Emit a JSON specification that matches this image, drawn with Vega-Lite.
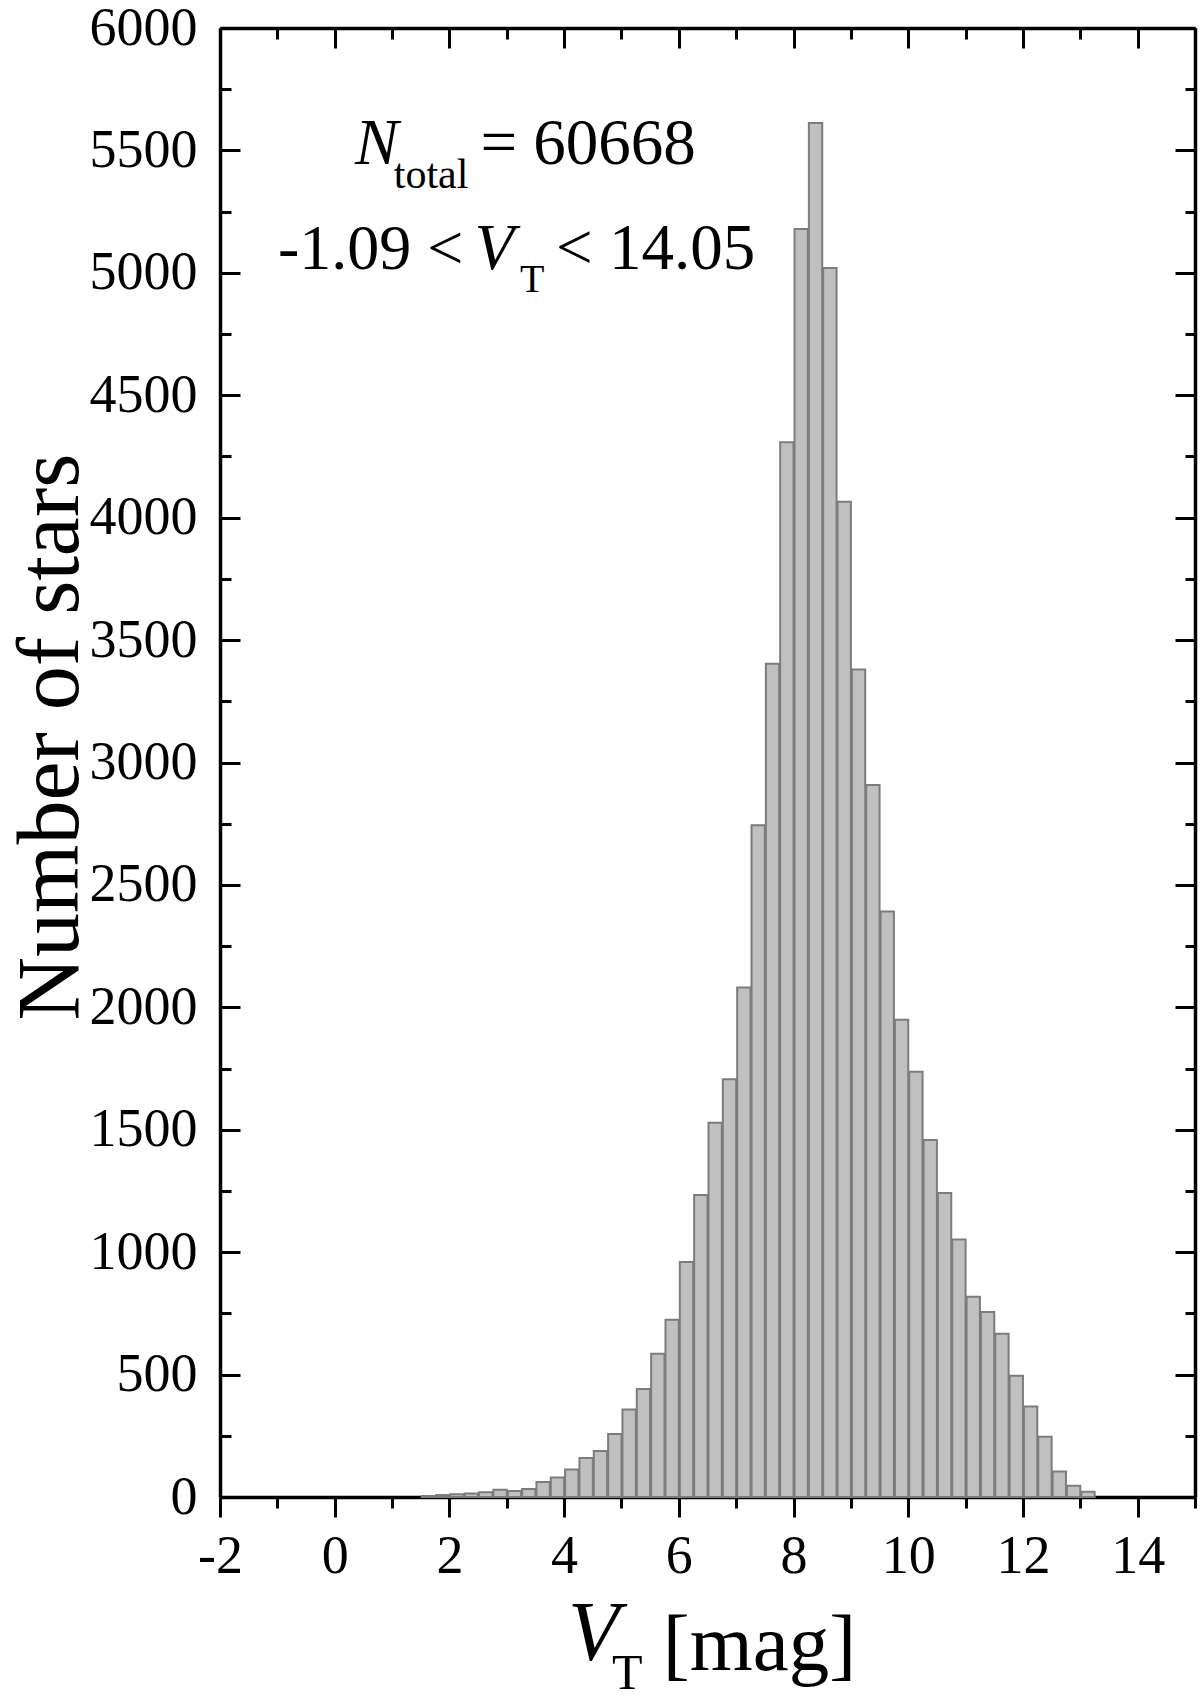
{
  "$schema": "https://vega.github.io/schema/vega-lite/v6.json",
  "width": 975,
  "height": 1469,
  "autosize": {"type": "none"},
  "padding": {"left": 220, "top": 28, "right": 5, "bottom": 201},
  "background": "white",
  "config": {
    "view": {"stroke": null},
    "font": "Liberation Serif",
    "axis": {"labelFont": "Liberation Serif", "grid": false, "domainColor": "black", "tickColor": "black", "labelColor": "black", "labelFlush": false, "labelOverlap": false}
  },
  "data": {"values": [
    {"bin_start": 1.5, "bin_end": 1.75, "count": 4},
    {"bin_start": 1.75, "bin_end": 2.0, "count": 8},
    {"bin_start": 2.0, "bin_end": 2.25, "count": 11},
    {"bin_start": 2.25, "bin_end": 2.5, "count": 14},
    {"bin_start": 2.5, "bin_end": 2.75, "count": 19},
    {"bin_start": 2.75, "bin_end": 3.0, "count": 30},
    {"bin_start": 3.0, "bin_end": 3.25, "count": 24},
    {"bin_start": 3.25, "bin_end": 3.5, "count": 33},
    {"bin_start": 3.5, "bin_end": 3.75, "count": 61},
    {"bin_start": 3.75, "bin_end": 4.0, "count": 80},
    {"bin_start": 4.0, "bin_end": 4.25, "count": 112},
    {"bin_start": 4.25, "bin_end": 4.5, "count": 159},
    {"bin_start": 4.5, "bin_end": 4.75, "count": 188},
    {"bin_start": 4.75, "bin_end": 5.0, "count": 257},
    {"bin_start": 5.0, "bin_end": 5.25, "count": 357},
    {"bin_start": 5.25, "bin_end": 5.5, "count": 441},
    {"bin_start": 5.5, "bin_end": 5.75, "count": 585},
    {"bin_start": 5.75, "bin_end": 6.0, "count": 724},
    {"bin_start": 6.0, "bin_end": 6.25, "count": 960},
    {"bin_start": 6.25, "bin_end": 6.5, "count": 1233},
    {"bin_start": 6.5, "bin_end": 6.75, "count": 1529},
    {"bin_start": 6.75, "bin_end": 7.0, "count": 1706},
    {"bin_start": 7.0, "bin_end": 7.25, "count": 2081},
    {"bin_start": 7.25, "bin_end": 7.5, "count": 2744},
    {"bin_start": 7.5, "bin_end": 7.75, "count": 3403},
    {"bin_start": 7.75, "bin_end": 8.0, "count": 4308},
    {"bin_start": 8.0, "bin_end": 8.25, "count": 5179},
    {"bin_start": 8.25, "bin_end": 8.5, "count": 5612},
    {"bin_start": 8.5, "bin_end": 8.75, "count": 5020},
    {"bin_start": 8.75, "bin_end": 9.0, "count": 4065},
    {"bin_start": 9.0, "bin_end": 9.25, "count": 3380},
    {"bin_start": 9.25, "bin_end": 9.5, "count": 2908},
    {"bin_start": 9.5, "bin_end": 9.75, "count": 2391},
    {"bin_start": 9.75, "bin_end": 10.0, "count": 1949},
    {"bin_start": 10.0, "bin_end": 10.25, "count": 1737},
    {"bin_start": 10.25, "bin_end": 10.5, "count": 1458},
    {"bin_start": 10.5, "bin_end": 10.75, "count": 1242},
    {"bin_start": 10.75, "bin_end": 11.0, "count": 1052},
    {"bin_start": 11.0, "bin_end": 11.25, "count": 818},
    {"bin_start": 11.25, "bin_end": 11.5, "count": 756},
    {"bin_start": 11.5, "bin_end": 11.75, "count": 667},
    {"bin_start": 11.75, "bin_end": 12.0, "count": 495},
    {"bin_start": 12.0, "bin_end": 12.25, "count": 370},
    {"bin_start": 12.25, "bin_end": 12.5, "count": 246},
    {"bin_start": 12.5, "bin_end": 12.75, "count": 104},
    {"bin_start": 12.75, "bin_end": 13.0, "count": 46},
    {"bin_start": 13.0, "bin_end": 13.25, "count": 21}
  ]},
  "resolve": {"axis": {"x": "independent", "y": "independent"}},
  "layer": [
    {
      "mark": {"type": "bar", "fill": "#c0c0c0", "stroke": "#7c7c7c", "strokeWidth": 2, "binSpacing": 1},
      "encoding": {
        "x": {"field": "bin_start", "type": "quantitative", "bin": "binned",
          "scale": {"domain": [-2, 15], "nice": false, "zero": false},
          "axis": {"orient": "bottom", "values": [-2, 0, 2, 4, 6, 8, 10, 12, 14], "labelExpr": "'' + datum.value", "tickSize": 20, "tickWidth": 3, "domainWidth": 3.5, "labelFontSize": 54, "labelPadding": 12, "title": null}},
        "x2": {"field": "bin_end"},
        "y": {"field": "count", "type": "quantitative",
          "scale": {"domain": [0, 6000], "nice": false},
          "axis": {"orient": "left", "values": [0, 500, 1000, 1500, 2000, 2500, 3000, 3500, 4000, 4500, 5000, 5500, 6000], "labelExpr": "'' + datum.value", "tickSize": -20, "tickWidth": 3, "domainWidth": 3.5, "labelFontSize": 54, "labelPadding": 43, "title": null}}
      }
    },
    {
      "mark": {"type": "point", "opacity": 0},
      "encoding": {
        "x": {"field": "bin_start", "type": "quantitative",
          "axis": {"orient": "bottom", "values": [-1, 1, 3, 5, 7, 9, 11, 13, 15], "tickSize": 11, "tickWidth": 3, "domain": false, "labels": false, "title": null}},
        "y": {"field": "count", "type": "quantitative",
          "axis": {"orient": "left", "values": [250, 750, 1250, 1750, 2250, 2750, 3250, 3750, 4250, 4750, 5250, 5750], "tickSize": -11, "tickWidth": 3, "domain": false, "labels": false, "title": null}}
      }
    },
    {
      "mark": {"type": "point", "opacity": 0},
      "encoding": {
        "x": {"field": "bin_start", "type": "quantitative",
          "axis": {"orient": "top", "values": [-2, 0, 2, 4, 6, 8, 10, 12, 14], "tickSize": -20, "tickWidth": 3, "domainWidth": 3.5, "labels": false, "title": null}},
        "y": {"field": "count", "type": "quantitative",
          "axis": {"orient": "right", "values": [0, 500, 1000, 1500, 2000, 2500, 3000, 3500, 4000, 4500, 5000, 5500, 6000], "tickSize": -20, "tickWidth": 3, "domainWidth": 3.5, "labels": false, "title": null}}
      }
    },
    {
      "mark": {"type": "point", "opacity": 0},
      "encoding": {
        "x": {"field": "bin_start", "type": "quantitative",
          "axis": {"orient": "top", "values": [-1, 1, 3, 5, 7, 9, 11, 13, 15], "tickSize": -11, "tickWidth": 3, "domain": false, "labels": false, "title": null}},
        "y": {"field": "count", "type": "quantitative",
          "axis": {"orient": "right", "values": [250, 750, 1250, 1750, 2250, 2750, 3250, 3750, 4250, 4750, 5250, 5750], "tickSize": -10, "tickWidth": 3, "domain": false, "labels": false, "title": null}}
      }
    },
    {
      "data": {"values": [{"label": "N"}]},
      "mark": {"type": "text", "font": "Liberation Serif", "fontStyle": "italic", "fontSize": 65, "align": "left", "baseline": "alphabetic", "color": "black"},
      "encoding": {"x": {"datum": 0.354, "type": "quantitative", "axis": null}, "y": {"datum": 5446, "type": "quantitative", "axis": null}, "text": {"field": "label"}}
    },
    {
      "data": {"values": [{"label": "total"}]},
      "mark": {"type": "text", "font": "Liberation Serif", "fontSize": 42, "align": "left", "baseline": "alphabetic", "color": "black"},
      "encoding": {"x": {"datum": 1.03, "type": "quantitative", "axis": null}, "y": {"datum": 5345, "type": "quantitative", "axis": null}, "text": {"field": "label"}}
    },
    {
      "data": {"values": [{"label": "= 60668"}]},
      "mark": {"type": "text", "font": "Liberation Serif", "fontSize": 65, "align": "left", "baseline": "alphabetic", "color": "black"},
      "encoding": {"x": {"datum": 2.54, "type": "quantitative", "axis": null}, "y": {"datum": 5446, "type": "quantitative", "axis": null}, "text": {"field": "label"}}
    },
    {
      "data": {"values": [{"label": "-1.09 <"}]},
      "mark": {"type": "text", "font": "Liberation Serif", "fontSize": 64, "align": "left", "baseline": "alphabetic", "color": "black"},
      "encoding": {"x": {"datum": -0.989, "type": "quantitative", "axis": null}, "y": {"datum": 5014, "type": "quantitative", "axis": null}, "text": {"field": "label"}}
    },
    {
      "data": {"values": [{"label": "V"}]},
      "mark": {"type": "text", "font": "Liberation Serif", "fontStyle": "italic", "fontSize": 65, "align": "left", "baseline": "alphabetic", "color": "black"},
      "encoding": {"x": {"datum": 2.4375, "type": "quantitative", "axis": null}, "y": {"datum": 5014, "type": "quantitative", "axis": null}, "text": {"field": "label"}}
    },
    {
      "data": {"values": [{"label": "T"}]},
      "mark": {"type": "text", "font": "Liberation Serif", "fontSize": 40, "align": "left", "baseline": "alphabetic", "color": "black"},
      "encoding": {"x": {"datum": 3.231, "type": "quantitative", "axis": null}, "y": {"datum": 4922, "type": "quantitative", "axis": null}, "text": {"field": "label"}}
    },
    {
      "data": {"values": [{"label": "< 14.05"}]},
      "mark": {"type": "text", "font": "Liberation Serif", "fontSize": 65, "align": "left", "baseline": "alphabetic", "color": "black"},
      "encoding": {"x": {"datum": 3.86, "type": "quantitative", "axis": null}, "y": {"datum": 5014, "type": "quantitative", "axis": null}, "text": {"field": "label"}}
    },
    {
      "data": {"values": [{"label": "V"}]},
      "mark": {"type": "text", "font": "Liberation Serif", "fontStyle": "italic", "fontSize": 84, "align": "left", "baseline": "alphabetic", "color": "black"},
      "encoding": {"x": {"datum": 4.068, "type": "quantitative", "axis": null}, "y": {"datum": -665, "type": "quantitative", "axis": null}, "text": {"field": "label"}}
    },
    {
      "data": {"values": [{"label": "T"}]},
      "mark": {"type": "text", "font": "Liberation Serif", "fontSize": 50, "align": "left", "baseline": "alphabetic", "color": "black"},
      "encoding": {"x": {"datum": 4.835, "type": "quantitative", "axis": null}, "y": {"datum": -785, "type": "quantitative", "axis": null}, "text": {"field": "label"}}
    },
    {
      "data": {"values": [{"label": "[mag]"}]},
      "mark": {"type": "text", "font": "Liberation Serif", "fontSize": 81, "align": "left", "baseline": "alphabetic", "color": "black"},
      "encoding": {"x": {"datum": 5.72, "type": "quantitative", "axis": null}, "y": {"datum": -708, "type": "quantitative", "axis": null}, "text": {"field": "label"}}
    },
    {
      "data": {"values": [{"label": "Number of stars"}]},
      "mark": {"type": "text", "font": "Liberation Serif", "fontSize": 88, "angle": 270, "align": "center", "baseline": "alphabetic", "color": "black"},
      "encoding": {"x": {"datum": -4.476, "type": "quantitative", "axis": null}, "y": {"datum": 3104, "type": "quantitative", "axis": null}, "text": {"field": "label"}}
    }
  ]
}
